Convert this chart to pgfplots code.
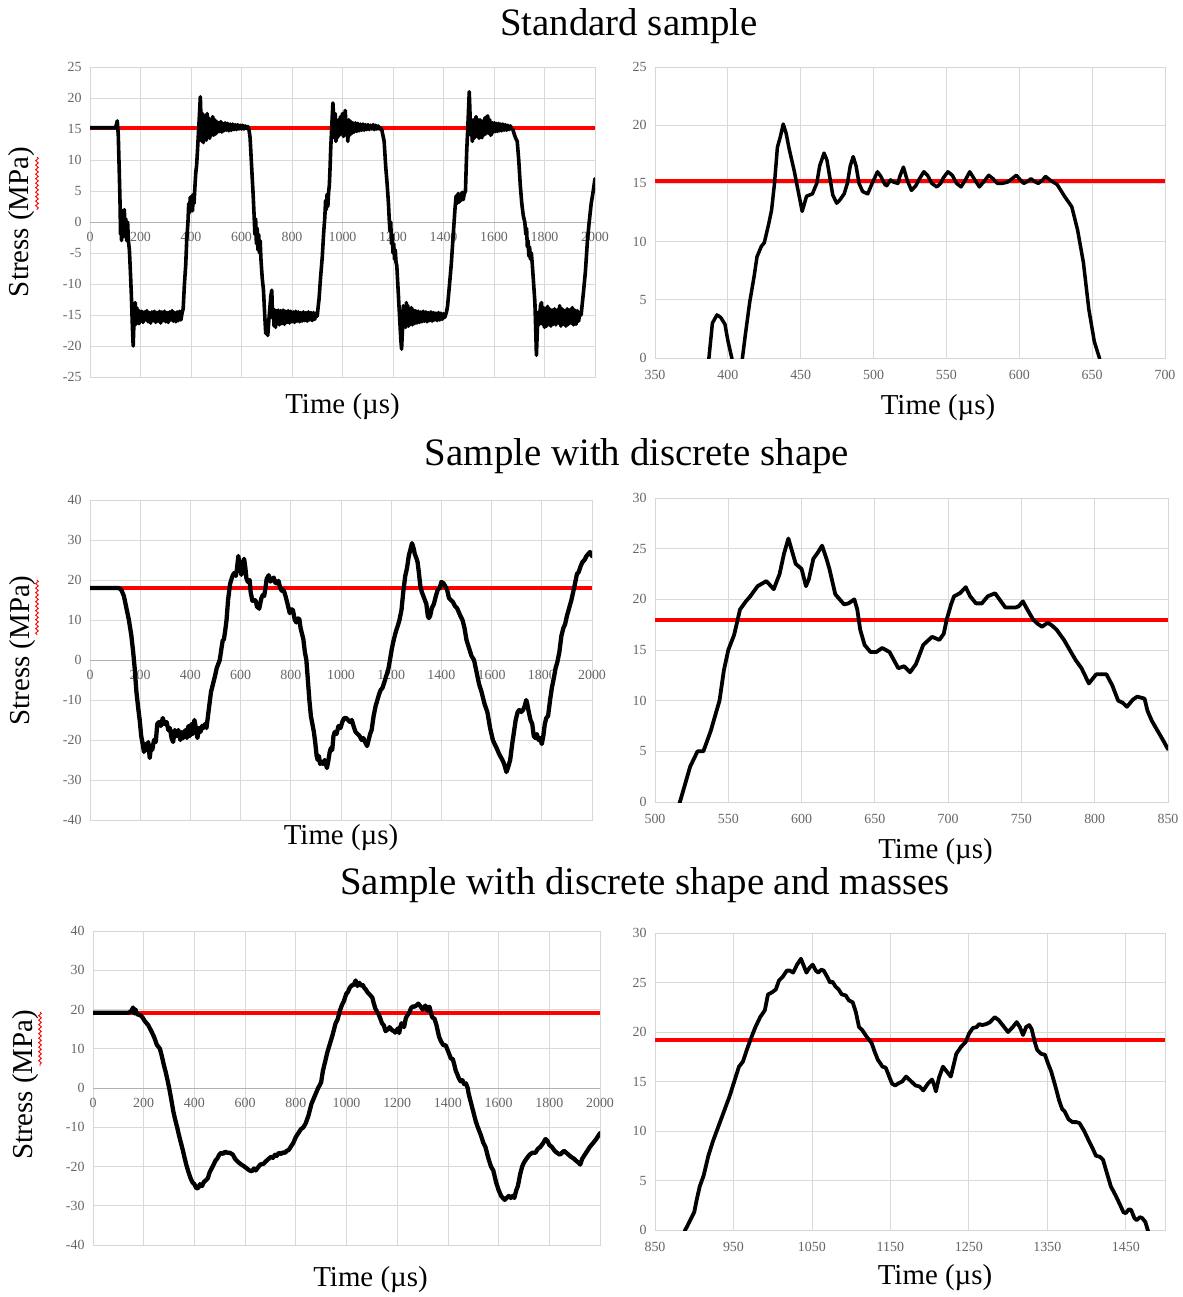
\documentclass[border=0pt]{standalone}
\usepackage{fontspec}
\setmainfont{Liberation Serif}
\usepackage{pgfplots}
\pgfplotsset{compat=1.18}
\usetikzlibrary{decorations.pathmorphing}
\newcommand{\titlefont}{\fontsize{39}{45}\selectfont}
\newcommand{\labfont}{\fontsize{29}{34}\selectfont}
\pgfplotsset{
  common/.style={
    scale only axis, anchor=north west,
    axis line style={draw=black!16, line width=0.8bp},
    grid=major, grid style={draw=black!15, line width=0.8bp},
    major tick length=0pt,
    tick label style={font=\fontsize{14}{16}\selectfont, text=black!60},
    y tick label style={xshift=-5bp},
    /pgf/number format/assume math mode=true,
    /pgf/number format/1000 sep={},
    scaled ticks=false,
    xlabel={Time (µs)},
    every axis x label/.style={at={(axis description cs:0.5,0)}, anchor=center, font=\labfont},
  },
  full/.style={common, xmin=0, xmax=2000, xtick distance=200,
    ylabel={Stress (MPa)},
    every axis y label/.style={at={(axis description cs:-0.135,0.5)}, rotate=90, anchor=center, font=\labfont},
    extra y ticks={0}, extra y tick labels={},
    extra y tick style={grid style={draw=black!30, line width=1bp}}},
  zoomed/.style={common, ymin=0, x tick label style={yshift=-9bp}},
  redl/.style={draw=red, line width=4bp},
  dat/.style={black, line width=3.5bp, line join=round, line cap=round},
}
\begin{document}
\begin{tikzpicture}
\useasboundingbox (0,0) rectangle (1183bp,-1297bp);
\node[anchor=base, font=\titlefont] at (629bp,-35bp) {Standard sample};
\node[anchor=base, font=\titlefont] at (637bp,-465bp) {Sample with discrete shape};
\node[anchor=base, font=\titlefont] at (645bp,-894bp) {Sample with discrete shape and masses};

% ---------------- Panel 1
\begin{axis}[full, at={(90bp,-67bp)}, width=505bp, height=310bp,
  ymin=-25, ymax=25, ytick distance=5,
  x tick label style={yshift=148bp},
  every axis x label/.append style={yshift=-30bp}]
\addplot[redl] coordinates {(0,15.2) (2000,15.2)};
\addplot[dat, line width=3.6bp] coordinates {
(0,15.2)(100,15.2)(104,15.6)(108,16.3)(112,14)(116,8)(119,3)(121,-2)(123,2)(125,-3)(127,1.5)(129,-2.5)(131,1)(133,-1.5)(136,2)(139,-2)(142,0.5)(145,-3)(149,0)(152,-3)(156,-4.5)(160,-8)(164,-12)(168,-17)(171,-20)(175,-15)(179,-13)(182,-16.5)(185,-13.8)(188,-16.2)(191,-14.2)(194,-16.4)(197,-14.4)
(200,-15.9)(205,-14.4)(210,-16.2)(215,-14.5)(220,-15.8)(225,-14.3)(230,-16.1)(235,-14.6)(240,-16.3)(245,-14.5)(250,-15.9)(255,-14.4)(260,-16.2)(265,-14.6)(270,-16)(275,-14.4)(280,-16.3)(285,-14.5)(290,-15.9)(295,-14.4)(300,-16.1)(305,-14.6)(310,-16.2)(315,-14.5)(320,-15.8)(325,-14.3)(330,-16)(335,-14.6)(340,-16.1)(345,-14.5)(350,-15.9)(355,-14.4)(360,-15.8)(365,-14.6)
(369,-14)(374,-10)(379,-7)(383,-3)(388,0)(391,3)(394,1.5)(397,4)(400,2)(403,4.2)(406,1.8)(409,4.5)(412,3)(416,6)(419,8)(422,9)(425,11)(429,14)(433,17)(437,20.2)(440,16)(443,13)(446,17.5)(449,12.8)(452,16.8)(455,13.5)(458,17.2)(461,13.2)(464,17.5)(467,13.8)(470,16.8)(474,13.5)(478,16.5)(482,14)(486,17)(490,14)(494,16.5)(498,14.2)(502,16.2)(506,14.5)(510,16)(514,14.6)(518,16.2)(522,14.5)(526,15.9)(530,14.7)(535,16)(540,14.8)(545,15.9)(550,14.7)(555,15.8)(560,14.8)(565,15.8)(570,14.9)(575,15.7)(580,14.9)(585,15.7)(590,15)(595,15.6)(600,15)(605,15.6)(610,15)(615,15.5)(620,15.1)(625,15.4)
(630,14.8)(634,13.6)(640,9)(646,4.5)(650,1)(653,-2)(656,0.5)(659,-3.5)(662,-1)(665,-4.5)(668,-2)(671,-5)(674,-3)(677,-6)(682,-9)(687,-11)(692,-15)(696,-18)(700,-16.5)(704,-18.3)(708,-16)(712,-14)(716,-12)(720,-11)(723,-15.5)(726,-14)(729,-16.8)(732,-14.2)(735,-17)(738,-14.3)(741,-16.5)(745,-14.2)(750,-16.6)(755,-14.3)(760,-16.4)(765,-14.2)(770,-16.5)(775,-14.4)(780,-16.2)(785,-14.3)(790,-16.3)(795,-14.4)(800,-16.1)(805,-14.5)(810,-16.2)(815,-14.4)(820,-16)(825,-14.5)(830,-16.1)(835,-14.6)(840,-16)(845,-14.5)(850,-15.9)(855,-14.6)(860,-16)(865,-14.5)(870,-15.8)(875,-14.6)(880,-15.9)(885,-14.6)(890,-15.7)(895,-14.7)(900,-15.2)
(904,-13.5)(907,-12.5)(913,-9)(920,-5.6)(925,-2)(930,0.8)(933,3.5)(936,2)(939,4.5)(942,2.5)(945,4.8)(948,6)(951,9)(953,11.5)(957,15)(962,19.2)(965,17)(968,13.5)(971,17.5)(974,13)(977,16)(980,13.6)(984,16.5)(988,14)(992,17)(996,14.5)(1000,17.5)(1004,13.8)(1008,17)(1011,18)(1015,14)(1018,16)(1021,13)(1025,16.5)(1029,14)(1033,16.2)(1037,14.3)(1041,16)(1046,14.5)(1051,16)(1056,14.6)(1061,15.9)(1066,14.7)(1071,15.8)(1076,14.8)(1081,15.8)(1086,14.8)(1091,15.7)(1096,14.9)(1101,15.7)(1106,14.9)(1111,15.6)(1116,15)(1121,15.7)(1126,14.9)(1131,15.6)(1136,15)(1141,15.5)(1146,15)(1150,15.2)
(1156,14.8)(1160,14)(1165,13)(1171,9)(1177,6)(1182,3)(1185,0.5)(1188,-1.5)(1191,0)(1194,-3.5)(1197,-2)(1200,-5)(1203,-3.5)(1206,-6)(1209,-4.5)(1212,-6.5)(1215,-7)(1219,-10)(1223,-13)(1227,-16)(1231,-19)(1234,-20.5)(1238,-17)(1241,-13.5)(1244,-16.5)(1247,-14)(1250,-17)(1253,-13)(1256,-15.5)(1259,-13.5)(1262,-16.8)(1265,-14.2)(1269,-16.5)(1273,-13.8)(1277,-16.6)(1281,-14.2)(1285,-16.4)(1290,-14.3)(1295,-16.3)(1300,-14.4)(1305,-16.2)(1310,-14.5)(1315,-16.1)(1320,-14.4)(1325,-16)(1330,-14.5)(1335,-16.1)(1340,-14.6)(1345,-15.9)(1350,-14.5)(1355,-16)(1360,-14.6)(1365,-15.8)(1370,-14.7)(1375,-15.9)(1380,-14.6)(1385,-15.8)(1390,-14.7)(1395,-15.7)(1400,-14.8)(1405,-15.4)(1408,-15)
(1412,-14.5)(1416,-13.6)(1424,-10)(1431,-6.7)(1437,-3)(1442,0)(1446,2.4)(1450,4.2)(1454,3)(1458,4.6)(1462,3.2)(1466,4.5)(1470,3.5)(1474,4.8)(1478,3.6)(1482,4.5)(1487,5)(1490,9)(1492,11.5)(1496,15)(1499,18)(1502,21)(1505,17.5)(1508,14)(1511,16)(1514,13)(1518,16.5)(1522,13.5)(1526,16)(1529,17)(1533,13.8)(1537,16.5)(1541,13.5)(1545,16.5)(1549,13.8)(1552,13.6)(1556,16.3)(1560,14)(1564,16.8)(1568,14.2)(1572,17)(1575,17.1)(1579,14.3)(1583,16.5)(1587,14)(1590,14.2)(1594,16)(1598,14.5)(1602,16)(1606,14.6)(1610,15.9)(1614,14.6)(1618,15.9)(1622,14.7)(1626,15.8)(1630,14.7)(1635,15.8)(1640,14.8)(1645,15.7)(1650,14.8)(1655,15.6)(1660,14.9)(1665,15.5)(1670,15)(1674,15)
(1680,14.2)(1686,13.5)(1692,13)(1698,10)(1704,6)(1710,3)(1716,1)(1722,0)(1726,-2)(1729,-1)(1732,-4)(1735,-3)(1738,-5.5)(1741,-4)(1744,-6)(1748,-5)(1752,-7)(1757,-10)(1762,-13)(1765,-17)(1768,-21.5)(1772,-17)(1776,-14.5)(1780,-16.5)(1784,-13.5)(1788,-13)(1792,-16.5)(1796,-13.8)(1800,-17)(1804,-14)(1808,-16.8)(1812,-13.6)(1816,-16.5)(1820,-14)(1825,-16.8)(1830,-14.2)(1835,-16.5)(1840,-14)(1845,-16.6)(1850,-14.2)(1855,-16.3)(1860,-13.5)(1865,-16.8)(1870,-14)(1875,-16.5)(1880,-14.3)(1885,-16.8)(1890,-14)(1895,-16.5)(1900,-14.2)(1905,-16.3)(1910,-13.8)(1915,-16.6)(1920,-14.2)(1925,-16.5)(1930,-14.3)(1935,-16)(1940,-14.6)(1945,-15)(1950,-13)(1955,-11)(1962,-8)(1970,-3)(1977,0)(1985,3)(1993,5)(2000,7)
};
\end{axis}

% ---------------- Panel 2
\begin{axis}[zoomed, at={(655bp,-67bp)}, width=510bp, height=291bp,
  xmin=350, xmax=700, xtick distance=50, ymax=25, ytick distance=5,
  every axis x label/.append style={yshift=-50bp, xshift=28bp}]
\addplot[redl] coordinates {(350,15.2) (700,15.2)};
\addplot[dat] coordinates {
(385,-3)(387,0)(389.4,3)(392.5,3.7)(395,3.5)(398,2.9)(400,1.5)(402.7,0)(406,-3)(410,0)(412,2)(415,4.8)(418,7)(420,8.7)(423,9.6)(425,9.9)(428,11.5)(430,12.7)(432,15)(434,18.1)(436,19)(438,20.1)(440,19.3)(442,18)(445.5,16.1)(448,14.5)(451,12.6)(454,13.9)(458,14.1)(461,15)(463,16.5)(466,17.6)(468,17)(470,15.5)(472,14)(474.7,13.3)(477,13.6)(479.8,14.1)(482,15)(484,16.5)(486,17.3)(488,16.5)(490,15)(492.5,14.3)(496,14.1)(499,15)(502.7,16)(505,15.6)(507.8,14.9)(509,14.8)(511.6,15.3)(514,15.1)(516.7,15)(518,15.6)(520.5,16.4)(523,15.3)(526,14.4)(529,14.8)(531,15.3)(534.5,16)(537,15.7)(540,15)(543.4,14.7)(546,15)(548,15.5)(551,16)(554,15.7)(557,15)(560,14.7)(563,15.3)(566,16)(569,15.4)(572.6,14.7)(576,15.2)(579,15.7)(582,15.4)(585,15)(588,15)(591.7,15.1)(595,15.4)(598,15.7)(600,15.4)(603,15)(606,15.2)(608,15.4)(610,15.2)(613,15)(616,15.3)(618,15.6)(621,15.3)(626,14.9)(631,13.9)(636,13)(640,11)(644,8.2)(647.7,4.2)(651.5,1.4)(655,0)(657,-2)
};
\end{axis}

% ---------------- Panel 3
\begin{axis}[full, at={(90bp,-500bp)}, width=502bp, height=320bp,
  ymin=-40, ymax=40, ytick distance=10,
  x tick label style={yshift=153bp},
  every axis x label/.append style={yshift=-18bp},
  every axis y label/.append style={at={(axis description cs:-0.135,0.53)}}]
\addplot[redl] coordinates {(0,18) (2000,18)};
\addplot[dat, line width=4.3bp] coordinates {
(0,18)(115,18)(125,17.5)(135,16)(145,13)(155,10)(165,6)(172,2)(178,-2)(185,-8)(192,-12)(198,-15)(204,-19)(210,-21)(215,-23)(220,-21)(226,-22.5)(232,-20.5)(238,-24.5)(243,-21.5)(248,-22.5)(255,-20)(262,-20.5)(268,-16)(275,-15.5)(282,-16.5)(290,-14.5)(297,-16)(305,-15.5)(312,-17.5)(318,-17)(325,-19.5)(331,-20.5)(338,-17.5)(345,-19)(352,-17.5)(360,-20)(366,-18)(372,-19.5)(380,-17.5)(386,-19.5)(392,-16.5)(398,-19)(404,-16)(410,-18.5)(416,-15)(422,-17)(428,-19.5)(434,-17)(440,-18)(446,-16.5)(452,-17)(458,-16)(464,-17)(470,-14)(476,-11)(482,-8)(490,-6)(498,-4)(505,-2)
(517,0)(524,3)(529,5)(533,5)(538,7)(544,10)(550,15)(558,19)(565,20.5)(570,21.3)(576,21.8)(581,21)(585,22.5)(591,26)(596,23.5)(600,23)(603,21.3)(608,24)(614,25.3)(619,23)(623,20.5)(629,19.5)(636,20)(640,17)(647,14.8)(655,15)(660,14.8)(666,13.2)(670,13.4)(674,12.8)(683,15.5)(689,16.3)(694,16)(699,18)(704,20.3)(712,21.2)(719,19.6)(727,20.3)(732,20.6)(739,19.2)(746,19.2)(751,19.8)(758,18)(764,17.3)(768,17.7)(774,17)(779,16)(787,14)(796,11.7)(801,12.6)(808,12.6)(816,10)(822,9.4)(829,10.4)(834,10.2)(839,8)(850,5.2)
(856,2)(862,0)(868,-5)(874,-10)(880,-14)(886,-16)(892,-18)(898,-21)(903,-24)(907,-25)(912,-24)(917,-26)(922,-25.5)(928,-26)(935,-25)(940,-26)(944,-27)(950,-25)(955,-23)(960,-22)(965,-22.5)(970,-19)(975,-18)(982,-18.5)(990,-16.5)(998,-17)(1005,-15.5)(1013,-14.5)(1021,-14.5)(1028,-15)(1036,-15.5)(1043,-15)(1050,-16.5)(1058,-18)(1066,-18.5)(1074,-19)(1082,-20)(1089,-19.5)(1096,-20.5)(1104,-21.5)(1110,-20)(1116,-18.5)(1122,-17.5)(1130,-14)(1138,-11.5)(1145,-10)(1152,-8.5)(1158,-7.5)(1165,-7)(1173,-5.5)(1180,-4)(1188,-2.5)(1195,0)(1203,3)(1210,5)(1218,7)(1226,8.5)(1233,10)(1241,12.5)(1248,17)(1256,21)(1263,23)(1270,26)(1276,27.5)(1283,29.2)(1289,28)(1294,26.5)(1300,25.5)(1305,24.5)(1310,22)(1316,18.5)(1322,17)(1328,16)(1334,15)(1340,14)(1346,11)(1350,10.5)(1355,11)(1362,13)(1370,14)(1378,16)(1385,17.5)(1393,18)(1400,19.5)(1408,19.2)(1415,18.5)(1423,17.5)(1430,15.5)(1438,15)(1446,14.5)(1454,13.5)(1462,13)(1469,12)(1476,11)(1484,10)(1492,8)(1500,5)(1510,3)(1520,1)(1530,0)(1540,-3)(1550,-6)(1560,-8)(1572,-11)(1583,-13)(1594,-17)(1605,-20)(1612,-21)(1620,-22)(1630,-23.5)(1643,-25)(1650,-26)(1659,-28)(1665,-27)(1674,-25)(1682,-21)(1689,-18)(1696,-15)(1704,-13)(1710,-12.5)(1718,-13)(1725,-12.5)(1732,-11.5)(1738,-10)(1742,-11)(1748,-13)(1755,-15)(1762,-16)(1768,-19)(1774,-19.5)(1780,-18.5)(1787,-20)(1793,-19.5)(1800,-21)(1806,-19)(1812,-16)(1818,-14.5)(1825,-14)(1833,-10)(1840,-7)(1848,-4.5)(1855,-2)(1862,-0.5)(1870,2)(1878,6)(1886,8)(1893,9)(1900,11)(1909,13)(1918,15)(1925,17)(1932,19)(1940,21.5)(1947,22)(1955,23.5)(1962,24.5)(1970,25)(1978,26)(1985,26.5)(1992,27)(2000,26)
};
\end{axis}

% ---------------- Panel 4
\begin{axis}[zoomed, at={(655bp,-498bp)}, width=513bp, height=304bp,
  xmin=500, xmax=850, xtick distance=50, ymax=30, ytick distance=5,
  every axis x label/.append style={yshift=-50bp, xshift=24bp}]
\addplot[redl] coordinates {(500,18) (850,18)};
\addplot[dat, line width=3.8bp] coordinates {
(513,-2)(517,0)(521,2)(524,3.5)(529,5)(533,5)(538,7)(541,8.5)(544,10)(547,13)(550,15)(554,16.5)(558,19)(562,19.8)(565,20.3)(570,21.3)(576,21.8)(581,21)(585,22.5)(588,24.5)(591,26)(594,24.5)(596,23.5)(600,23)(603,21.3)(605,22)(608,24)(611,24.6)(614,25.3)(617,24)(619,23)(623,20.5)(626,20)(629,19.5)(632,19.6)(636,20)(638,19)(640,17)(643,15.5)(647,14.8)(651,14.8)(655,15.2)(660,14.8)(663,14)(666,13.2)(670,13.4)(674,12.8)(678,13.6)(683,15.5)(689,16.3)(694,16)(697,16.6)(699,18)(702,19.5)(704,20.3)(708,20.6)(712,21.2)(715,20.3)(719,19.6)(723,19.6)(727,20.3)(732,20.6)(735,20)(739,19.2)(746,19.2)(748,19.3)(751,19.8)(754,19)(758,18)(761,17.6)(764,17.3)(768,17.7)(771,17.4)(774,17)(779,16)(783,15)(787,14)(791,13.2)(796,11.7)(801,12.6)(808,12.6)(812,11.5)(816,10)(819,9.8)(822,9.4)(826,10.1)(829,10.4)(834,10.2)(836,9)(839,8)(843,7)(847,6)(850,5.2)
};
\end{axis}

% ---------------- Panel 5
\begin{axis}[full, at={(93bp,-931bp)}, width=507bp, height=314bp,
  ymin=-40, ymax=40, ytick distance=10,
  x tick label style={yshift=150bp},
  every axis x label/.append style={yshift=-35bp, xshift=24bp},
  every axis y label/.append style={at={(axis description cs:-0.134,0.51)}}]
\addplot[redl] coordinates {(0,19.2) (2000,19.2)};
\addplot[dat, line width=4.3bp] coordinates {
(0,19.2)(140,19.2)(150,19.5)(158,20.5)(163,19)(168,20)(173,18.8)(180,18.7)(188,18.5)(195,18)(205,17)(218,16)(230,14.5)(241,13)(252,11)(264,10)(272,8)(279,6)(287,4)(294,2)(302,-0.5)(309,-3)(317,-6)(324,-8)(332,-10)(339,-12)(347,-14)(355,-16)(362,-18)(370,-20)(377,-21.5)(385,-23)(392,-24)(400,-24.5)(407,-25.5)(415,-25.5)(422,-24.5)(430,-25)(437,-24)(445,-23.5)(453,-23)(460,-21.5)(468,-20.5)(476,-19.5)(483,-18.5)(490,-18)(498,-17)(506,-16.5)(514,-16.8)(521,-16.2)(530,-16.5)(540,-16.5)(552,-17)(560,-18)(567,-18.5)(575,-19)(585,-19.5)(597,-20)(607,-20.5)(617,-21)(627,-21.2)(635,-20.5)(642,-21)(650,-20.3)(660,-19.5)(673,-19.3)(680,-18.8)(690,-18.2)(703,-17.5)(710,-17.8)(718,-17)(725,-17.3)(733,-16.5)(742,-16.8)(750,-16.4)(758,-16.5)(764,-16)(772,-15.8)(780,-15)(790,-14)(800,-12.5)(810,-11.5)(820,-10.5)(830,-10)(839,-9)(850,-7)(862,-4)(875,-2)(888,0)(895,0.8)(900,1.5)(907,4.4)(915,6.5)(924,9)(931,10.5)(938,12)(945,13.5)(957,16.5)(965,17.5)(973,19.5)(981,21)(990,22.2)(999,24)(1006,24.5)(1013,25.6)(1022,26.2)(1029,26.3)(1036,27.4)(1043,26)(1051,26.8)(1058,26)(1065,26.2)(1070,25.5)(1076,25.1)(1084,24.3)(1093,23.7)(1102,23)(1108,21.5)(1114,20.2)(1120,19.5)(1126,18.9)(1133,17.8)(1140,16.5)(1147,16)(1154,14.5)(1160,14.8)(1165,15)(1170,15.5)(1176,15)(1182,14.6)(1188,14.6)(1192,14.1)(1198,14.7)(1203,15.2)(1208,14)(1212,15.5)(1217,16.5)(1222,16)(1227,15.5)(1234,17.8)(1240,18.5)(1246,19)(1255,20.4)(1261,20.8)(1267,20.7)(1275,21)(1283,21.5)(1292,20.8)(1300,20)(1306,20.5)(1311,21)(1319,19.7)(1323,20.5)(1327,20.7)(1332,19.5)(1337,18.2)(1342,17.8)(1347,17.7)(1355,16)(1365,13.1)(1372,12)(1382,10.9)(1391,10.9)(1397,10)(1403,9)(1412,7.5)(1419,7.4)(1425,6)(1431,4.4)(1437,3.5)(1443,2.5)(1450,1.7)(1457,2)(1464,1)(1471,1.2)(1478,0)(1482,-1.5)(1490,-3.5)(1500,-6)(1510,-8.5)(1518,-10)(1530,-12)(1540,-14)(1548,-15)(1560,-18)(1570,-20)(1579,-21)(1590,-24)(1600,-26)(1610,-27.5)(1624,-28.5)(1632,-28)(1640,-27.5)(1648,-28)(1655,-27.5)(1662,-28)(1670,-26)(1676,-25)(1685,-22)(1693,-20)(1700,-19)(1710,-18)(1722,-17)(1733,-16.5)(1745,-16.5)(1755,-15.5)(1765,-15)(1776,-14)(1785,-13)(1793,-13.5)(1800,-14.5)(1810,-15)(1821,-16)(1830,-16.5)(1842,-17)(1850,-16.5)(1858,-16)(1867,-16.5)(1876,-17)(1885,-17.5)(1897,-18)(1905,-18.5)(1915,-19)(1922,-19.5)(1930,-18)(1940,-17)(1950,-16)(1960,-15)(1973,-14)(1985,-13)(1995,-12)(2000,-11.5)
};
\end{axis}

% ---------------- Panel 6
\begin{axis}[zoomed, at={(655bp,-933bp)}, width=510bp, height=297bp,
  xmin=850, xmax=1500, xtick={850,950,1050,1150,1250,1350,1450}, ymax=30, ytick distance=5,
  every axis x label/.append style={yshift=-48bp, xshift=25bp}]
\addplot[redl] coordinates {(850,19.2) (1500,19.2)};
\addplot[dat, line width=3.8bp] coordinates {
(885,-1)(888.5,0)(895,1)(900,1.8)(903,3)(907,4.4)(912,5.5)(918,7.5)(924,9)(931,10.5)(938,12)(945,13.5)(951,15)(957,16.5)(962,17)(967,18.2)(973,19.5)(978,20.5)(984,21.5)(990,22.2)(994,23.8)(999,24)(1004,24.3)(1008,25.2)(1013,25.6)(1018,26.2)(1022,26.2)(1026,26)(1031,26.8)(1036,27.4)(1039,26.8)(1043,26)(1047,26.5)(1051,26.8)(1055,26.2)(1058,26)(1062,26.3)(1065,26.2)(1070,25.5)(1073,25)(1076,25.1)(1080,24.6)(1084,24.3)(1088,23.8)(1093,23.7)(1097,23.2)(1102,23)(1106,22)(1110,20.5)(1114,20.2)(1120,19.5)(1126,18.9)(1130,18)(1134,17.2)(1140,16.5)(1144,16.4)(1148,15.6)(1152,14.8)(1156,14.6)(1160,14.8)(1165,15)(1170,15.5)(1174,15.2)(1178,14.9)(1182,14.6)(1187,14.5)(1192,14.1)(1198,14.8)(1203,15.2)(1206,14.6)(1208,14)(1212,15.4)(1217,16.5)(1222,16)(1227,15.5)(1231,16.8)(1234,17.8)(1240,18.5)(1246,19)(1250,19.8)(1255,20.4)(1260,20.5)(1263,20.8)(1267,20.7)(1272,20.8)(1277,21)(1283,21.5)(1288,21.2)(1292,20.8)(1296,20.4)(1300,20)(1306,20.5)(1311,21)(1315,20.5)(1319,19.7)(1323,20.5)(1327,20.7)(1330,20.3)(1334,19)(1337,18.2)(1342,17.8)(1347,17.7)(1351,16.8)(1355,16)(1360,14.6)(1365,13.1)(1369,12.2)(1372,12)(1377,11.2)(1382,10.9)(1387,10.9)(1391,10.8)(1397,10)(1403,9)(1408,8.2)(1412,7.5)(1417,7.4)(1421,7.1)(1425,6)(1431,4.4)(1437,3.5)(1443,2.5)(1447,1.8)(1450,1.7)(1454,2.1)(1457,2)(1461,1.2)(1464,1)(1468,1.3)(1471,1.2)(1475,0.8)(1478,0)(1481,-1)
};
\end{axis}

% spell-check underlines under "MPa"
\draw[red, line width=0.9bp, decorate, decoration={snake, amplitude=1.3bp, segment length=4.5bp}] (37bp,-157bp) -- (37bp,-210bp);
\draw[red, line width=0.9bp, decorate, decoration={snake, amplitude=1.3bp, segment length=4.5bp}] (37bp,-580bp) -- (37bp,-635bp);
\draw[red, line width=0.9bp, decorate, decoration={snake, amplitude=1.3bp, segment length=4.5bp}] (40bp,-1012bp) -- (40bp,-1066bp);
\end{tikzpicture}
\end{document}
